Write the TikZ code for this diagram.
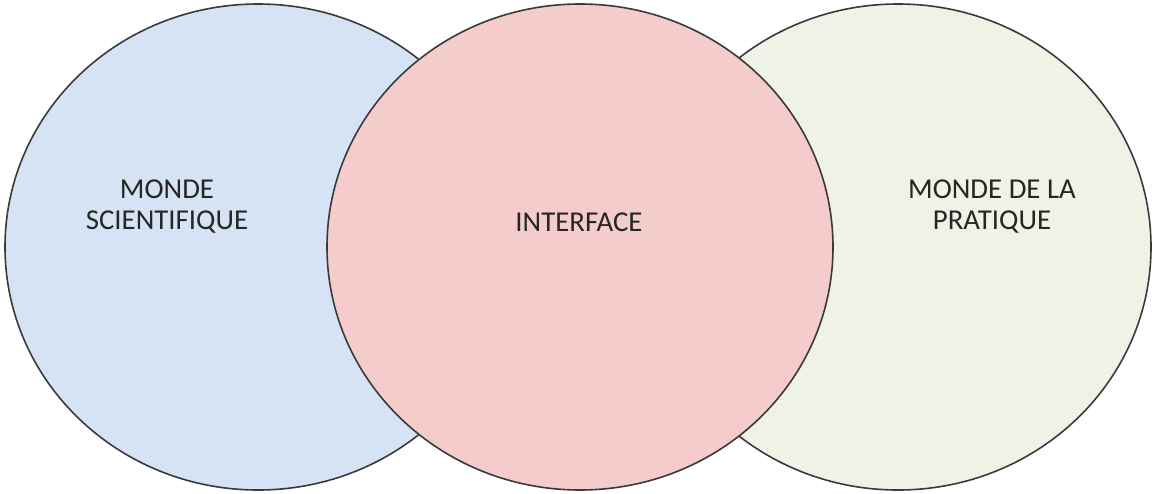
\documentclass[tikz,border=0pt]{standalone}
\usepackage{fontspec}
\setmainfont{Carlito}
\usepackage{tikz}
\usetikzlibrary{shapes.geometric}

\definecolor{sciblue}{HTML}{D5E3F4}
\definecolor{interpink}{HTML}{F4CCCC}
\definecolor{pracgreen}{HTML}{EEF3E6}
\definecolor{rimgray}{HTML}{3A3A3A}
\definecolor{inkgray}{HTML}{262626}

\tikzset{
  world/.style={ellipse, draw=rimgray, line width=0.8pt, inner sep=0pt,
    minimum width=253pt, minimum height=243pt},
  label/.style={align=center, text=inkgray, font=\fontsize{14.4}{15.5}\selectfont}
}

\begin{document}
\begin{tikzpicture}[x=0.5pt, y=-0.5pt]
      \useasboundingbox (0,0) rectangle (1156,493);

      \coordinate (s) at (258,247);
      \coordinate (p) at (898,247);
      \coordinate (i) at (580,247);

      \node[world, fill=sciblue] (sci) at (s) {};
      \node[world, fill=pracgreen] (prac) at (p) {};
      \node[world, fill=interpink] (inter) at (i) {};

      \node[label] (scitext) at (167,207) {MONDE\\SCIENTIFIQUE};
      \node[label] (intertext) at (579,222) {INTERFACE};
      \node[label] (practext) at (992,207) {MONDE DE LA\\PRATIQUE};
    \end{tikzpicture}
\end{document}
